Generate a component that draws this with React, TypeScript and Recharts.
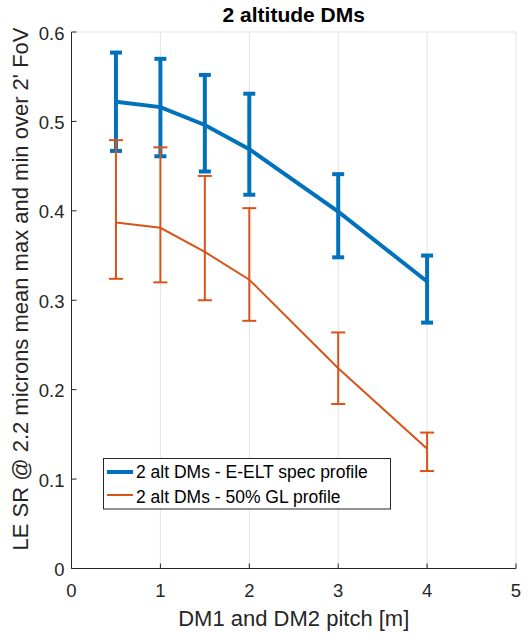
import React from 'react';
import { LineChart, Line, XAxis, YAxis, CartesianGrid, ErrorBar } from 'recharts';

const pitch = [0.5, 1, 1.5, 2, 3, 4];
const eltMean = [0.522, 0.516, 0.496, 0.469, 0.399, 0.321];
const eltMax = [0.577, 0.570, 0.552, 0.531, 0.441, 0.350];
const eltMin = [0.467, 0.461, 0.444, 0.418, 0.348, 0.275];
const glMean = [0.387, 0.381, 0.354, 0.323, 0.224, 0.134];
const glMax = [0.479, 0.471, 0.439, 0.403, 0.264, 0.152];
const glMin = [0.324, 0.320, 0.300, 0.277, 0.184, 0.109];

const xTicks = [0, 1, 2, 3, 4, 5];
const yTicks = [0, 0.1, 0.2, 0.3, 0.4, 0.5, 0.6];
const yTickLabels = ['0', '0.1', '0.2', '0.3', '0.4', '0.5', '0.6'];

const titleText = '2 altitude DMs';
const xLabel = 'DM1 and DM2 pitch [m]';
const yLabel = "LE SR @ 2.2 microns mean max and min over 2' FoV";
const legendElt = '2 alt DMs - E-ELT spec profile';
const legendGl = '2 alt DMs - 50% GL profile';

const rows = pitch.map((p, i) => ({
  x: p,
  elt: eltMean[i],
  eltErr: [eltMean[i] - eltMin[i], eltMax[i] - eltMean[i]],
  gl: glMean[i],
  glErr: [glMean[i] - glMin[i], glMax[i] - glMean[i]],
}));

const W = 529;
const H = 636;
const L = 71.5;
const R = 516;
const T = 32;
const B = 568.5;
const AX = '#262626';
const FONT = '"Liberation Sans", Arial, Helvetica, sans-serif';
const BLUE = '#0072BD';
const ORANGE = '#D95319';

const XTickBottom = (props: any) => {
  const { x, payload } = props;
  return (
    <g>
      <line x1={x} x2={x} y1={B} y2={B - 5} stroke={AX} strokeWidth={1} />
      <text x={x} y={597} textAnchor="middle" fontSize={18.5} fill={AX} fontFamily={FONT}>
        {payload.value}
      </text>
    </g>
  );
};

const XTickTop = (props: any) => {
  const { x } = props;
  return <line x1={x} x2={x} y1={T} y2={T + 5} stroke={AX} strokeWidth={1} />;
};

const YTickLeft = (props: any) => {
  const { y, payload } = props;
  const idx = yTicks.indexOf(payload.value);
  return (
    <g>
      <line x1={L} x2={L + 5} y1={y} y2={y} stroke={AX} strokeWidth={1} />
      <text x={L - 7} y={y + 7.5} textAnchor="end" fontSize={18.5} fill={AX} fontFamily={FONT}>
        {idx >= 0 ? yTickLabels[idx] : String(payload.value)}
      </text>
    </g>
  );
};

const YTickRight = (props: any) => {
  const { y } = props;
  return <line x1={R} x2={R - 5} y1={y} y2={y} stroke={AX} strokeWidth={1} />;
};

export default function App() {
  return (
    <div style={{ position: 'absolute', left: 0, top: 0, width: W, height: H, background: '#fff' }}>
      <LineChart
        width={W}
        height={H}
        data={rows}
        margin={{ top: T, right: W - R, bottom: H - B - 30, left: L - 60 }}
      >
        <CartesianGrid stroke="#e3e3e3" strokeWidth={1} />
        <XAxis
          xAxisId="b"
          dataKey="x"
          type="number"
          domain={[0, 5]}
          ticks={xTicks}
          tickLine={false}
          tick={<XTickBottom />}
          axisLine={{ stroke: AX }}
          height={30}
          interval={0}
        />
        <XAxis
          xAxisId="t"
          orientation="top"
          dataKey="x"
          type="number"
          domain={[0, 5]}
          ticks={xTicks}
          tickLine={false}
          tick={<XTickTop />}
          axisLine={{ stroke: AX }}
          height={0}
          interval={0}
        />
        <YAxis
          yAxisId="l"
          type="number"
          domain={[0, 0.6]}
          ticks={yTicks}
          tickLine={false}
          tick={<YTickLeft />}
          axisLine={{ stroke: AX }}
          width={60}
          interval={0}
        />
        <YAxis
          yAxisId="r"
          orientation="right"
          type="number"
          domain={[0, 0.6]}
          ticks={yTicks}
          tickLine={false}
          tick={<YTickRight />}
          axisLine={{ stroke: AX }}
          width={0}
          interval={0}
        />
        <Line
          xAxisId="b"
          yAxisId="l"
          dataKey="elt"
          stroke={BLUE}
          strokeWidth={4}
          dot={false}
          isAnimationActive={false}
        >
          <ErrorBar dataKey="eltErr" direction="y" width={6} strokeWidth={4} stroke={BLUE} isAnimationActive={false} />
        </Line>
        <Line
          xAxisId="b"
          yAxisId="l"
          dataKey="gl"
          stroke={ORANGE}
          strokeWidth={2}
          dot={false}
          isAnimationActive={false}
        >
          <ErrorBar dataKey="glErr" direction="y" width={7} strokeWidth={2} stroke={ORANGE} isAnimationActive={false} />
        </Line>
      </LineChart>
      <svg
        width={W}
        height={H}
        style={{ position: 'absolute', left: 0, top: 0, pointerEvents: 'none' }}
      >
        <text x={(L + R) / 2} y={22} textAnchor="middle" fontSize={21} fontWeight="bold" fill="#000" fontFamily={FONT}>
          {titleText}
        </text>
        <text x={(L + R) / 2} y={626} textAnchor="middle" fontSize={22} fill={AX} fontFamily={FONT}>
          {xLabel}
        </text>
        <text
          x={0}
          y={0}
          transform={`translate(28, 289) rotate(-90)`}
          textAnchor="middle"
          fontSize={22}
          fill={AX}
          fontFamily={FONT}
        >
          {yLabel}
        </text>
        <rect x={103.5} y={458.5} width={287} height={50.5} fill="#fff" stroke={AX} strokeWidth={1} />
        <line x1={107} x2={133} y1={472} y2={472} stroke={BLUE} strokeWidth={4} />
        <line x1={107} x2={133} y1={495} y2={495} stroke={ORANGE} strokeWidth={2} />
        <text x={136} y={478} fontSize={17.5} fill="#000" fontFamily={FONT}>{legendElt}</text>
        <text x={136} y={503} fontSize={17.5} fill="#000" fontFamily={FONT}>{legendGl}</text>
      </svg>
    </div>
  );
}
